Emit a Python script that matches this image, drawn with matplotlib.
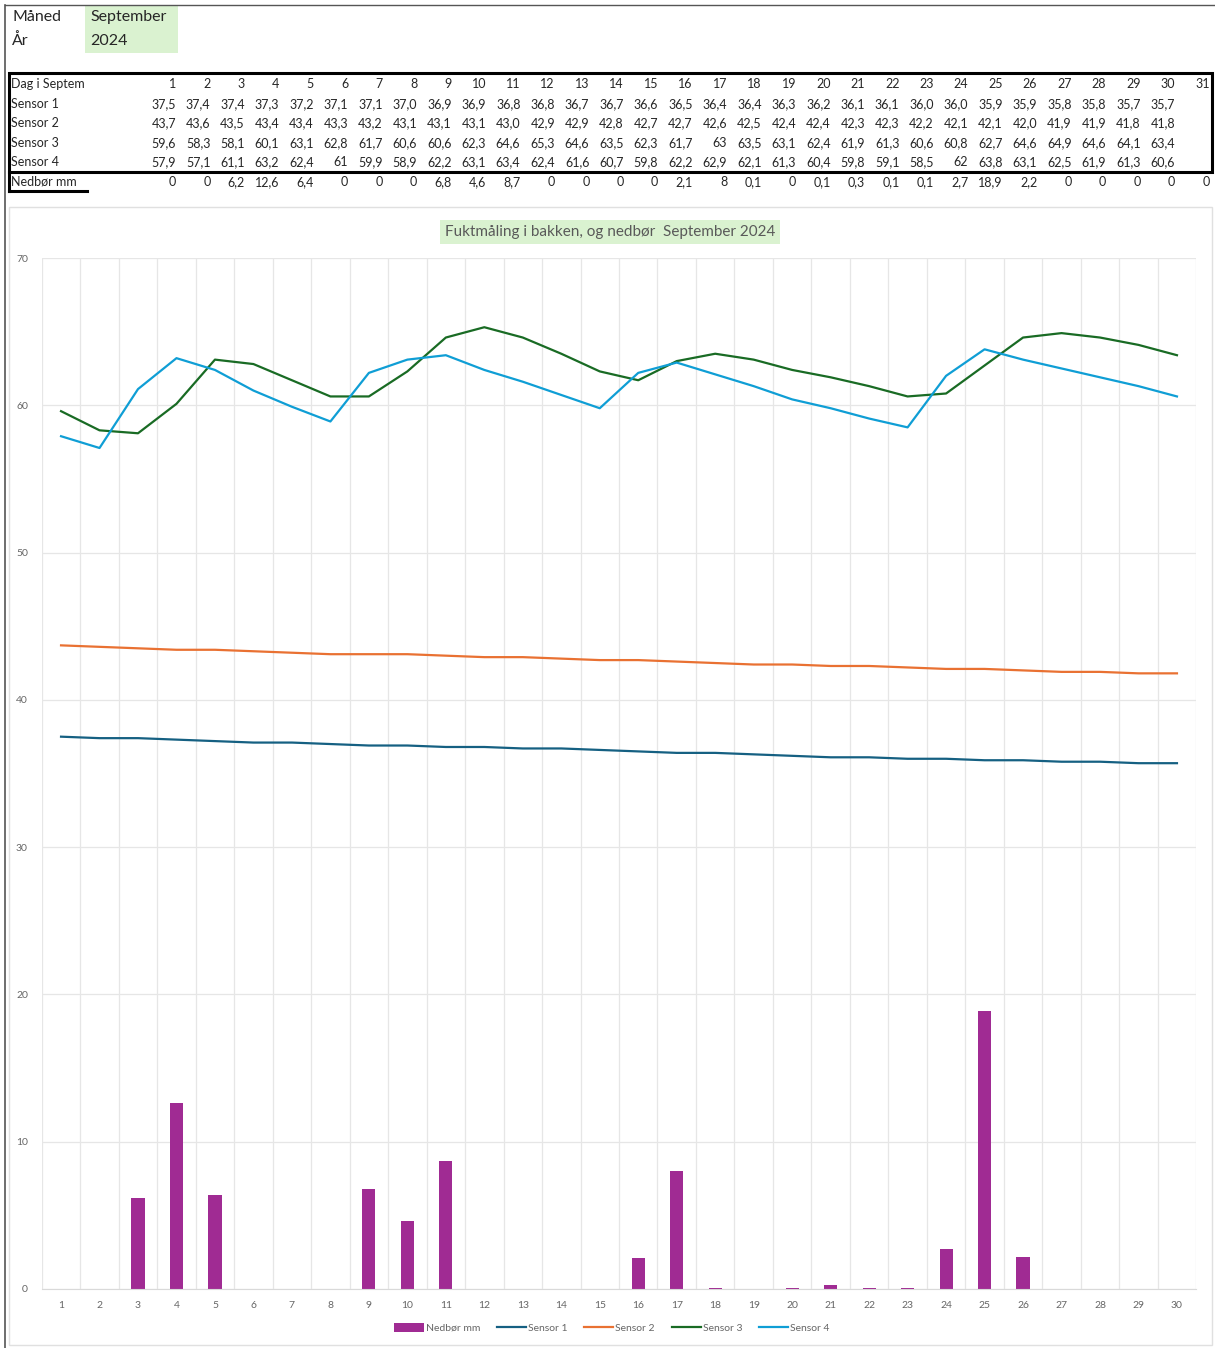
import matplotlib
import matplotlib.pyplot as plt
import matplotlib.patches as mpatches
from matplotlib.lines import Line2D
import numpy as np

matplotlib.use("Agg")

W, H = 1215, 1348

MONTH = "September"
YEAR = "2024"
DAYS = list(range(1, 31))
ALL_DAYS = list(range(1, 32))

SENSOR1 = [37.5, 37.4, 37.4, 37.3, 37.2, 37.1, 37.1, 37.0, 36.9, 36.9, 36.8, 36.8, 36.7, 36.7, 36.6,
           36.5, 36.4, 36.4, 36.3, 36.2, 36.1, 36.1, 36.0, 36.0, 35.9, 35.9, 35.8, 35.8, 35.7, 35.7]
SENSOR2 = [43.7, 43.6, 43.5, 43.4, 43.4, 43.3, 43.2, 43.1, 43.1, 43.1, 43.0, 42.9, 42.9, 42.8, 42.7,
           42.7, 42.6, 42.5, 42.4, 42.4, 42.3, 42.3, 42.2, 42.1, 42.1, 42.0, 41.9, 41.9, 41.8, 41.8]
SENSOR3 = [59.6, 58.3, 58.1, 60.1, 63.1, 62.8, 61.7, 60.6, 60.6, 62.3, 64.6, 65.3, 64.6, 63.5, 62.3,
           61.7, 63, 63.5, 63.1, 62.4, 61.9, 61.3, 60.6, 60.8, 62.7, 64.6, 64.9, 64.6, 64.1, 63.4]
SENSOR4 = [57.9, 57.1, 61.1, 63.2, 62.4, 61, 59.9, 58.9, 62.2, 63.1, 63.4, 62.4, 61.6, 60.7, 59.8,
           62.2, 62.9, 62.1, 61.3, 60.4, 59.8, 59.1, 58.5, 62, 63.8, 63.1, 62.5, 61.9, 61.3, 60.6]
RAIN = [0, 0, 6.2, 12.6, 6.4, 0, 0, 0, 6.8, 4.6, 8.7, 0, 0, 0, 0, 2.1, 8, 0.1, 0, 0.1,
        0.3, 0.1, 0.1, 2.7, 18.9, 2.2, 0, 0, 0, 0, 0]

C_S1 = "#156082"
C_S2 = "#E97132"
C_S3 = "#196B24"
C_S4 = "#0F9ED5"
C_RAIN = "#A02B93"
GREEN_BG = "#DAF2D0"
TXT = "#262626"

plt.rcParams["font.family"] = ["Lato", "DejaVu Sans"]


def px(x, y):
    return x / W, 1 - y / H


def fmt1(v):
    return f"{v:.1f}".replace(".", ",")


def fmtg(v):
    return f"{v:g}".replace(".", ",")


fig = plt.figure(figsize=(W / 100, H / 100), dpi=100)
fig.patch.set_facecolor("white")

# page borders
fig.add_artist(Line2D([5 / W, 5 / W], [0, 1 - 5 / H], color="#555555", lw=1.2))
fig.add_artist(Line2D([5 / W, 1], [1 - 5 / H, 1 - 5 / H], color="#555555", lw=1.0))

# header cells
fig.add_artist(mpatches.Rectangle(px(85, 53), 93 / W, 48 / H, facecolor=GREEN_BG, edgecolor="none"))
fig.text(*px(12, 17), "Måned", fontsize=11.5, va="center", ha="left", color=TXT)
fig.text(*px(12, 41), "År", fontsize=11.5, va="center", ha="left", color=TXT)
fig.text(*px(90, 17), MONTH, fontsize=11.5, va="center", ha="left", color=TXT)
fig.text(*px(90, 41), YEAR, fontsize=11.5, va="center", ha="left", color=TXT)

# table
row_y = [84, 104, 123, 143, 162, 182]
labels = ["Dag i Septem", "Sensor 1", "Sensor 2", "Sensor 3", "Sensor 4", "Nedbør mm"]
for lab, y in zip(labels, row_y):
    fig.text(*px(11, y), lab, fontsize=9, va="center", ha="left", color=TXT)


def col_x(i):
    return 176 + 34.45 * i


for i, d in enumerate(ALL_DAYS):
    fig.text(*px(col_x(i), row_y[0]), str(d), fontsize=9, va="center", ha="right", color=TXT)
    fig.text(*px(col_x(i), row_y[5]), fmtg(RAIN[i]), fontsize=9, va="center", ha="right", color=TXT)
for i in range(len(DAYS)):
    fig.text(*px(col_x(i), row_y[1]), fmt1(SENSOR1[i]), fontsize=9, va="center", ha="right", color=TXT)
    fig.text(*px(col_x(i), row_y[2]), fmt1(SENSOR2[i]), fontsize=9, va="center", ha="right", color=TXT)
    fig.text(*px(col_x(i), row_y[3]), fmtg(SENSOR3[i]), fontsize=9, va="center", ha="right", color=TXT)
    fig.text(*px(col_x(i), row_y[4]), fmtg(SENSOR4[i]), fontsize=9, va="center", ha="right", color=TXT)

fig.add_artist(mpatches.Rectangle(px(9, 172), 1203 / W, 99 / H, facecolor="none", edgecolor="black", lw=2.2))
fig.add_artist(Line2D([9 / W, 9 / W], [1 - 172 / H, 1 - 191 / H], color="black", lw=2.2))
fig.add_artist(Line2D([9 / W, 87 / W], [1 - 191 / H, 1 - 191 / H], color="black", lw=2.2))

# chart frame
fig.add_artist(mpatches.Rectangle(px(9, 1345), 1203 / W, 1138 / H, facecolor="none", edgecolor="#E0E0E0", lw=1.0))

# chart title
fig.text(*px(610, 232), "Fuktmåling i bakken, og nedbør  September 2024", fontsize=11, ha="center",
         va="center", color="#595959", bbox=dict(facecolor=GREEN_BG, edgecolor="none", boxstyle="square,pad=0.3"))

# plot area
x0, x1, ytop, ybot = 41.8, 1196.2, 258, 1289
ax = fig.add_axes([x0 / W, 1 - ybot / H, (x1 - x0) / W, (ybot - ytop) / H])
x = np.arange(len(DAYS))
bars = ax.bar(x, RAIN[:len(DAYS)], width=0.34, color=C_RAIN, zorder=2, label="Nedbør mm")
l1, = ax.plot(x, SENSOR1, color=C_S1, lw=1.6, zorder=3, label="Sensor 1")
l2, = ax.plot(x, SENSOR2, color=C_S2, lw=1.6, zorder=3, label="Sensor 2")
l3, = ax.plot(x, SENSOR3, color=C_S3, lw=1.6, zorder=3, label="Sensor 3")
l4, = ax.plot(x, SENSOR4, color=C_S4, lw=1.6, zorder=3, label="Sensor 4")

ax.set_xlim(-0.5, len(DAYS) - 0.5)
ax.set_ylim(0, 70)
ax.set_yticks(np.arange(0, 71, 10))
ax.set_xticks(x)
ax.set_xticklabels([str(d) for d in DAYS])
ax.set_xticks(np.arange(-0.5, len(DAYS), 1), minor=True)
ax.grid(axis="y", which="major", color="#E6E6E6", lw=0.9, zorder=0)
ax.grid(axis="x", which="minor", color="#E6E6E6", lw=0.9, zorder=0)
ax.tick_params(axis="both", which="both", length=0, labelsize=7.5, labelcolor="#666666")
ax.tick_params(axis="x", pad=9)
ax.tick_params(axis="y", pad=10)
for side in ["top", "right", "left"]:
    ax.spines[side].set_visible(False)
ax.spines["bottom"].set_color("#D9D9D9")
ax.set_axisbelow(True)

fig.legend([bars, l1, l2, l3, l4], ["Nedbør mm", "Sensor 1", "Sensor 2", "Sensor 3", "Sensor 4"],
           loc="center", bbox_to_anchor=px(612, 1328), ncol=5, frameon=False,
           fontsize=7.5, labelcolor="#666666", handlelength=2.8, handleheight=0.9,
           handletextpad=0.2, columnspacing=1.6)

fig.savefig("out.png", dpi=100, facecolor="white")
